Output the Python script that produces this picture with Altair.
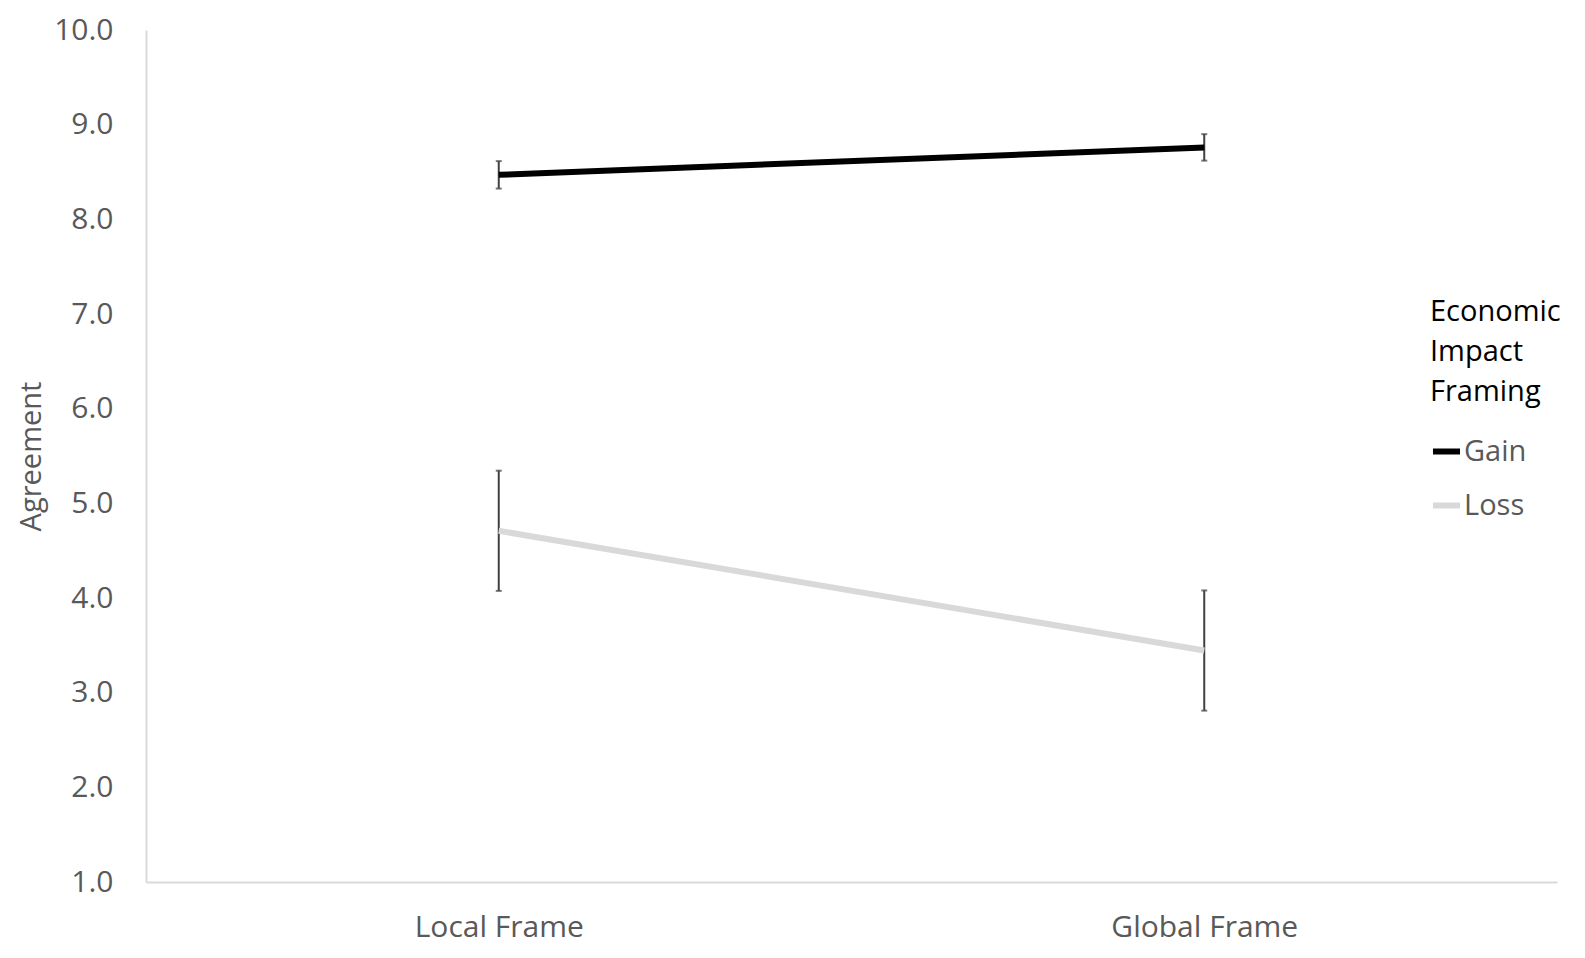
import altair as alt
import pandas as pd

frames = ["Local Frame", "Global Frame"]
series = ["Gain", "Loss"]
gain_mean = [8.47, 8.76]
gain_err = [0.145, 0.14]
loss_mean = [4.71, 3.445]
loss_err = [0.635, 0.635]
y_ticks = [1, 2, 3, 4, 5, 6, 7, 8, 9, 10]

rows = []
for s, means, errs in [("Gain", gain_mean, gain_err), ("Loss", loss_mean, loss_err)]:
    for f, m, e in zip(frames, means, errs):
        rows.append({"frame": f, "series": s, "mean": m, "lo": m - e, "hi": m + e})
df = pd.DataFrame(rows)

FONT = "Open Sans"
GRAY = "#595959"

x_enc = alt.X(
    "frame:N",
    sort=frames,
    scale=alt.Scale(type="point", padding=0.5),
    axis=alt.Axis(
        title=None,
        labelAngle=0,
        labelFontSize=30,
        labelColor=GRAY,
        labelFont=FONT,
        labelPadding=30,
        labelLimit=0,
        ticks=False,
        domainColor="#d9d9d9",
        domainWidth=2,
        grid=False,
    ),
)

y_scale = alt.Scale(domain=[1, 10], nice=False, zero=False)

y_axis = alt.Axis(
    title="Agreement",
    titleFontSize=29,
    titleFontWeight="normal",
    titleColor=GRAY,
    titleFont=FONT,
    titlePadding=7,
    values=y_ticks,
    format=".1f",
    labelFontSize=30,
    labelColor=GRAY,
    labelFont=FONT,
    labelPadding=33,
    ticks=False,
    domainColor="#d9d9d9",
    domainWidth=2,
    grid=False,
)

base = alt.Chart(df)

rules = base.mark_rule(color="#404040", strokeWidth=2).encode(
    x=x_enc,
    y=alt.Y("lo:Q", scale=y_scale, axis=y_axis),
    y2="hi:Q",
)
cap_lo = base.mark_tick(color="#404040", thickness=2, size=6).encode(
    x=x_enc, y=alt.Y("lo:Q", scale=y_scale)
)
cap_hi = base.mark_tick(color="#404040", thickness=2, size=6).encode(
    x=x_enc, y=alt.Y("hi:Q", scale=y_scale)
)

lines = base.mark_line(strokeWidth=6).encode(
    x=x_enc,
    y=alt.Y("mean:Q", scale=y_scale),
    color=alt.Color(
        "series:N",
        scale=alt.Scale(domain=series, range=["#000000", "#d9d9d9"]),
        legend=alt.Legend(
            title=["Economic", "Impact", "Framing"],
            orient="none",
            legendX=1284,
            legendY=268,
            titleFontSize=29,
            titleFontWeight="normal",
            titleColor="#000000",
            titleFont=FONT,
            titleLineHeight=40,
            titlePadding=28,
            labelFontSize=29,
            labelColor=GRAY,
            labelFont=FONT,
            labelOffset=1,
            labelLimit=0,
            symbolType="stroke",
            symbolStrokeWidth=6,
            symbolSize=729,
            rowPadding=22,
        ),
    ),
)

chart = (
    alt.layer(rules, cap_lo, cap_hi, lines)
    .properties(
        width=1411,
        height=852,
        autosize=alt.AutoSizeParams(type="none"),
        padding={"left": 138, "top": 22, "right": 20, "bottom": 68},
        background="white",
    )
    .configure_view(stroke=None)
)

chart.save("out.html", embed_options={"renderer": "svg", "actions": False})
